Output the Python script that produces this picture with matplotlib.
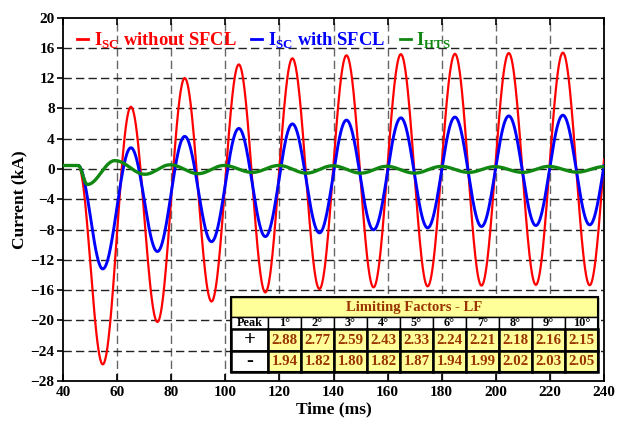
import numpy as np
import matplotlib
matplotlib.use("Agg")
import matplotlib.pyplot as plt
from matplotlib.patches import Rectangle
from matplotlib.lines import Line2D

plt.rcParams["font.family"] = ["Liberation Serif", "DejaVu Serif"]
plt.rcParams["font.weight"] = "bold"
plt.rcParams["mathtext.fontset"] = "custom"
plt.rcParams["mathtext.rm"] = "Liberation Serif:bold"
plt.rcParams["mathtext.bf"] = "Liberation Serif:bold"

# ── data: extrema (time in ms, current in kA) ──────────────────────────────────
red_t = [40, 45.6, 54.7, 65.1, 74.9, 85.0, 94.9, 105.0, 114.8, 124.8, 134.8,
         144.8, 154.8, 164.9, 174.8, 184.9, 194.7, 204.8, 214.8, 224.8, 234.7, 244.8]
red_v = [0.46, 0.46, -25.8, 8.2, -20.2, 12.0, -17.5, 13.8, -16.3, 14.6, -15.85,
         15.0, -15.63, 15.15, -15.5, 15.2, -15.4, 15.3, -15.3, 15.35, -15.35, 15.4]

blue_t = red_t
blue_v = [0.46, 0.46, -13.2, 2.8, -10.9, 4.3, -9.6, 5.35, -8.93, 5.95, -8.44,
          6.45, -8.04, 6.75, -7.78, 6.85, -7.6, 7.0, -7.47, 7.1, -7.38, 7.1]

green_t = [40, 45.6, 49.0, 59.2, 70.3, 79.6, 90.0, 99.5, 110.0, 119.8, 130.0,
           139.7, 150.2, 159.6, 170.0, 179.8, 190.0, 199.6, 210.0, 219.5, 230.0, 240.0]
green_v = [0.46, 0.46, -2.05, 1.1, -0.7, 0.55, -0.62, 0.46, -0.45, 0.46, -0.55,
           0.42, -0.55, 0.35, -0.55, 0.33, -0.45, 0.3, -0.45, 0.33, -0.42, 0.3]

# limiting factors table
peaks = ["1°", "2°", "3°", "4°", "5°", "6°", "7°", "8°", "9°", "10°"]
lf_pos = ["2.88", "2.77", "2.59", "2.43", "2.33", "2.24", "2.21", "2.18", "2.16", "2.15"]
lf_neg = ["1.94", "1.82", "1.80", "1.82", "1.87", "1.94", "1.99", "2.02", "2.03", "2.05"]


def wave(t_ext, v_ext, t):
    """half-cosine lobes between consecutive extrema"""
    y = np.full_like(t, v_ext[0], dtype=float)
    for i in range(len(t_ext) - 1):
        t0, t1 = t_ext[i], t_ext[i + 1]
        v0, v1 = v_ext[i], v_ext[i + 1]
        m = (t >= t0) & (t <= t1)
        s = (t[m] - t0) / (t1 - t0)
        y[m] = v0 + (v1 - v0) * (1 - np.cos(np.pi * s)) / 2
    return y


t = np.linspace(40, 240, 2001)

fig = plt.figure(figsize=(6.24, 4.30), dpi=100)
ax = fig.add_axes([63 / 624, 1 - 381 / 430, 541 / 624, 363.5 / 430])

c_red, c_blue, c_green = "#ff0000", "#0000ff", "#118811"
ax.plot(t, wave(red_t, red_v, t), color=c_red, lw=1.6, zorder=3)
ax.plot(t, wave(blue_t, blue_v, t), color=c_blue, lw=2.1, zorder=3)
ax.plot(t, wave(green_t, green_v, t), color=c_green, lw=2.4, zorder=3)

ax.set_xlim(40, 240)
ax.set_ylim(-28, 20)
ax.set_xticks(np.arange(40, 241, 20))
ax.set_yticks(np.arange(-28, 21, 4))

# dashed grid
for x in range(60, 240, 20):
    ax.axvline(x, color="#666666", lw=1.0, dashes=(6, 3), zorder=1)
for y in range(-24, 20, 4):
    ax.axhline(y, color="#222222", lw=1.0, dashes=(6, 3), zorder=1)

for s in ax.spines.values():
    s.set_linewidth(1.3)
ax.tick_params(axis="y", direction="out", length=4, width=1.2, labelsize=11, pad=2)
ax.tick_params(axis="x", direction="in", length=5, width=1.2, labelsize=11, top=True)
for lab in ax.get_xticklabels() + ax.get_yticklabels():
    lab.set_fontweight("bold")

ax.set_xlabel("Time (ms)", fontsize=12.5, fontweight="bold", labelpad=2)
ax.set_ylabel("Current (kA)", fontsize=12.5, fontweight="bold", labelpad=2)

handles = [Line2D([], [], color=c, lw=2) for c in (c_red, c_blue, c_green)]
labels = [r"I$_{\mathrm{SC}}$ without SFCL", r"I$_{\mathrm{SC}}$ with SFCL", r"I$_{\mathrm{HTS}}$"]
leg = ax.legend(handles, labels, loc="upper left", bbox_to_anchor=(-0.005, 1.01), ncol=3,
                frameon=False, handlelength=0.6, handletextpad=0.3, columnspacing=0.8,
                prop={"size": 13.3, "weight": "bold"})
for txt, c in zip(leg.get_texts(), (c_red, c_blue, c_green)):
    txt.set_color(c)

# ── table (axes fraction coordinates) ─────────────────────────────────────────
brown = "#993300"
yellow = "#ffff99"
x0, xp, x1 = 0.3105, 0.379, 0.989
y_top, y_h, y_p, y_m, y_bot = 0.231, 0.176, 0.143, 0.0825, 0.0248
cw = (x1 - xp) / len(peaks)
kw = dict(transform=ax.transAxes, clip_on=False, zorder=5)


def cell(xa, ya, w, h, fc, lw=1.0):
    ax.add_patch(Rectangle((xa, ya), w, h, facecolor=fc, edgecolor="black", lw=lw, **kw))


cell(x0, y_h, x1 - x0, y_top - y_h, yellow)
ax.text((x0 + x1) / 2, (y_h + y_top) / 2, "Limiting Factors - LF", color=brown,
        fontsize=10.5, fontweight="bold", ha="center", va="center", transform=ax.transAxes, zorder=6)

cell(x0, y_p, xp - x0, y_h - y_p, "white")
ax.text((x0 + xp) / 2, (y_p + y_h) / 2, "Peak", fontsize=8.8, fontweight="bold",
        ha="center", va="center", transform=ax.transAxes, zorder=6)
for i, p in enumerate(peaks):
    xa = xp + i * cw
    cell(xa, y_p, cw, y_h - y_p, "white")
    ax.text(xa + cw / 2, (y_p + y_h) / 2, p, fontsize=8.8, fontweight="bold",
            ha="center", va="center", transform=ax.transAxes, zorder=6)

for sign, vals, ya, yb in (("+", lf_pos, y_m, y_p), ("-", lf_neg, y_bot, y_m)):
    cell(x0, ya, xp - x0, yb - ya, "white", lw=1.8)
    ax.text((x0 + xp) / 2, (ya + yb) / 2, sign, fontsize=15, fontweight="bold",
            ha="center", va="center", transform=ax.transAxes, zorder=6)
    for i, v in enumerate(vals):
        xa = xp + i * cw
        cell(xa, ya, cw, yb - ya, yellow, lw=1.8)
        ax.text(xa + cw / 2, (ya + yb) / 2, v, color=brown, fontsize=10.8, fontweight="bold",
                ha="center", va="center", transform=ax.transAxes, zorder=6)

ax.add_patch(Rectangle((x0, y_bot), x1 - x0, y_top - y_bot, facecolor="none",
                       edgecolor="black", lw=1.5, **kw))

fig.savefig("out.png", dpi=100)
